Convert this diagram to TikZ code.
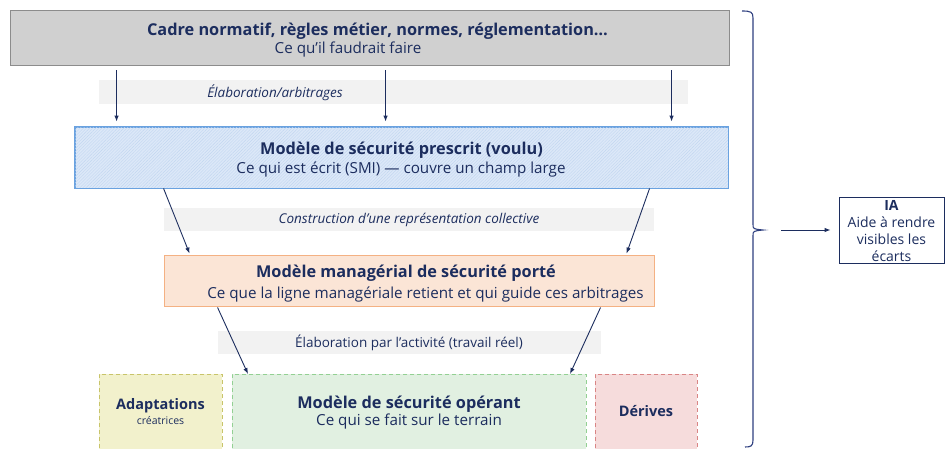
\documentclass[tikz,border=0pt]{standalone}
\usepackage{fontspec}
\setmainfont{Open Sans}
\usetikzlibrary{patterns.meta,arrows.meta,calc}
\definecolor{navy}{HTML}{1C2D5E}
\definecolor{grayfill}{HTML}{D0D0D0}
\definecolor{grayline}{HTML}{8C8C8C}
\definecolor{bluefill}{HTML}{DCE8F8}
\definecolor{bluehatch}{HTML}{C2D6F0}
\definecolor{blueline}{HTML}{6AA2E0}
\definecolor{orfill}{HTML}{FBE5D6}
\definecolor{orline}{HTML}{F4B183}
\definecolor{bandfill}{HTML}{F2F2F2}
\definecolor{yelfill}{HTML}{F2F1CC}
\definecolor{yelline}{HTML}{C8C46A}
\definecolor{grnfill}{HTML}{E1F0E1}
\definecolor{grnline}{HTML}{93D093}
\definecolor{redfill}{HTML}{F6DCDC}
\definecolor{redline}{HTML}{D98585}
\definecolor{bracecol}{HTML}{2E3F7F}
\begin{document}
\begin{tikzpicture}[x=1pt,y=-1pt,
  box/.style={rectangle, inner sep=0pt, line width=0.9pt},
  band/.style={rectangle, inner sep=0pt, fill=bandfill},
  txt/.style={text=navy, align=center, inner sep=0pt},
  ttl/.style={font=\fontsize{16.3}{19}\selectfont\bfseries},
  sub/.style={font=\fontsize{15.2}{18}\selectfont},
  bandtxt/.style={text=navy, inner sep=0pt, font=\fontsize{13.5}{16}\selectfont},
  dbox/.style={rectangle, inner sep=0pt, line width=0.9pt, dash pattern=on 4pt off 3pt},
  arr/.style={draw=navy, line width=0.9pt, -{Latex[length=6pt,width=4.5pt]}}
]
\useasboundingbox (0,0) rectangle (946,448);
\clip (0,0) rectangle (946,448);

% top box
\node[box, draw=grayline, fill=grayfill, minimum width=719, minimum height=55] (cadre) at (369.5,37.5) {};
\node[txt, ttl] (cadreA) at (377.5,31) {Cadre normatif, règles métier, normes, réglementation…};
\node[txt, sub] (cadreB) at (348,50) {Ce qu’il faudrait faire};

% band 1
\node[band, minimum width=589, minimum height=24] (band1) at (393.5,92) {};
\node[bandtxt, font=\fontsize{13.5}{16}\selectfont\itshape] (band1t) at (275,93) {Élaboration/arbitrages};

% prescrit box
\node[box, draw=blueline, fill=bluefill, minimum width=653, minimum height=61] (prescrit) at (401.5,157.5) {};
\fill[pattern={Lines[angle=45,distance=2.2pt,line width=0.4pt]}, pattern color=bluehatch]
  ([xshift=0.5pt,yshift=-0.5pt]prescrit.north west) rectangle ([xshift=-0.5pt,yshift=0.5pt]prescrit.south east);
\draw[blueline, line width=0.9pt] (prescrit.north west) rectangle (prescrit.south east);
\node[txt, ttl] (prescritA) at (401.5,150) {Modèle de sécurité prescrit (voulu)};
\node[txt, sub] (prescritB) at (401,169) {Ce qui est écrit (SMI) — couvre un champ large};

% band 2
\node[band, minimum width=490, minimum height=23] (band2) at (409,219.5) {};
\node[bandtxt, font=\fontsize{13.5}{16}\selectfont\itshape] (band2t) at (409,220) {Construction d’une représentation collective};

% managerial box
\node[box, draw=orline, fill=orfill, minimum width=490, minimum height=51] (manag) at (409,280.5) {};
\node[txt, ttl] (managA) at (406,273) {Modèle managérial de sécurité porté};
\node[txt, sub] (managB) at (425.5,294) {Ce que la ligne managériale retient et qui guide ces arbitrages};

% band 3
\node[band, minimum width=383, minimum height=23] (band3) at (409.5,342.5) {};
\node[bandtxt] (band3t) at (409,343) {Élaboration par l’activité (travail réel)};

% bottom boxes
\node[dbox, draw=yelline, fill=yelfill, minimum width=123, minimum height=90, anchor=north west] (adapt) at (99,374) {};
\node[txt, font=\fontsize{14.5}{17}\selectfont\bfseries] (adaptA) at (160.5,406) {Adaptations};
\node[txt, font=\fontsize{10.5}{12}\selectfont] (adaptB) at (160.5,421) {créatrices};

\node[dbox, draw=grnline, fill=grnfill, minimum width=354, minimum height=90, anchor=north west] (operant) at (232,374) {};
\node[txt, ttl] (operantA) at (409,404) {Modèle de sécurité opérant};
\node[txt, sub] (operantB) at (409,422) {Ce qui se fait sur le terrain};

\node[dbox, draw=redline, fill=redfill, minimum width=102, minimum height=90, anchor=north west] (derives) at (595,374) {};
\node[txt, font=\fontsize{14.5}{17}\selectfont\bfseries] (derivesA) at (646,411) {Dérives};

% arrows top -> prescrit
\draw[arr] ($(cadre.south west)+(107,5)$) -- ($(prescrit.north west)+(42,-5)$);
\draw[arr] ($(cadre.south west)+(376,5)$) -- ($(prescrit.north west)+(311,-5)$);
\draw[arr] ($(cadre.south west)+(662,5)$) -- ($(prescrit.north west)+(597,-5)$);

% prescrit -> managerial
\draw[arr] ($(prescrit.south west)+(89,0)$) -- ($(manag.north west)+(26,-1)$);
\draw[arr] ($(prescrit.south west)+(575,0)$) -- ($(manag.north west)+(463,-1)$);

% managerial -> operant
\draw[arr] ($(manag.south west)+(54,1)$) -- ($(operant.north west)+(16,0)$);
\draw[arr] ($(manag.south west)+(437,1)$) -- ($(operant.north west)+(338,0)$);

% brace
\coordinate (btip) at (763,230);
\draw[bracecol, line width=1.1pt]
  (742,11) .. controls (751,11) and (753,12) .. (753,18) -- (753,224)
  .. controls (753,229) .. (btip)
  .. controls (753,231) .. (753,236) -- (753,440)
  .. controls (753,446) and (751,447) .. (745,447);

% IA box
\node[box, draw=navy, fill=white, minimum width=105, minimum height=66] (ia) at (891.5,230) {};
\node[txt, font=\fontsize{14}{17}\selectfont] (iaT) at (891.5,231) {\textbf{IA}\\Aide à rendre\\visibles les\\écarts};

\draw[arr, shorten <=18pt, shorten >=8pt] (btip) -- (ia.west);
\end{tikzpicture}
\end{document}
